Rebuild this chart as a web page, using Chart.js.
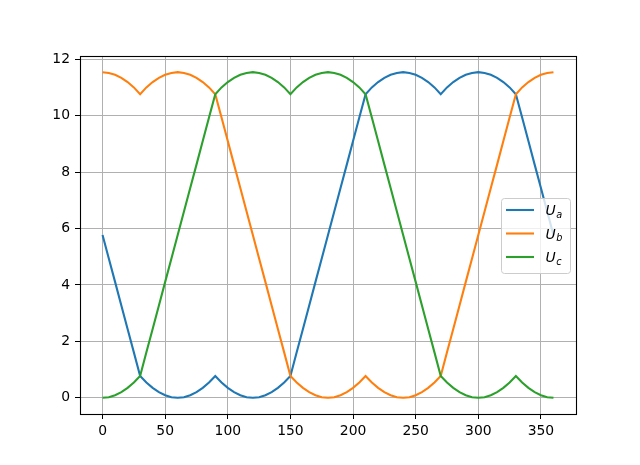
<!DOCTYPE html>
<html>
<head>
<meta charset="utf-8">
<script src="https://cdn.jsdelivr.net/npm/chart.js@4/dist/chart.umd.min.js"></script>
<style>
html,body{margin:0;padding:0;background:#fff;}
#wrap{width:640px;height:465px;}
</style>
</head>
<body>
<div id="wrap"><canvas id="c" width="640" height="465"></canvas></div>
<script>
// angle (degrees)
const xs = [0,5,10,15,20,25,30,35,40,45,50,55,60,65,70,75,80,85,90,95,100,105,110,115,120,125,130,135,140,145,150,155,160,165,170,175,180,185,190,195,200,205,210,215,220,225,230,235,240,245,250,255,260,265,270,275,280,285,290,295,300,305,310,315,320,325,330,335,340,345,350,355,360];
const ua = [5.77,4.94,4.11,3.27,2.44,1.61,0.77,
  0.54,0.35,0.20,0.09,0.02,0.00,0.02,0.09,0.20,0.35,0.54,0.77,
  0.54,0.35,0.20,0.09,0.02,0.00,0.02,0.09,0.20,0.35,0.54,0.77,
  1.61,2.44,3.27,4.11,4.94,5.77,6.61,7.44,8.27,9.11,9.94,10.77,
  11.01,11.20,11.35,11.46,11.52,11.55,11.52,11.46,11.35,11.20,11.01,10.77,
  11.01,11.20,11.35,11.46,11.52,11.55,11.52,11.46,11.35,11.20,11.01,10.77,
  9.94,9.11,8.27,7.44,6.61,5.77];
const ub = [11.55,11.52,11.46,11.35,11.20,11.01,10.77,
  11.01,11.20,11.35,11.46,11.52,11.55,11.52,11.46,11.35,11.20,11.01,10.77,
  9.94,9.11,8.27,7.44,6.61,5.77,4.94,4.11,3.27,2.44,1.61,0.77,
  0.54,0.35,0.20,0.09,0.02,0.00,0.02,0.09,0.20,0.35,0.54,0.77,
  0.54,0.35,0.20,0.09,0.02,0.00,0.02,0.09,0.20,0.35,0.54,0.77,
  1.61,2.44,3.27,4.11,4.94,5.77,6.61,7.44,8.27,9.11,9.94,10.77,
  11.01,11.20,11.35,11.46,11.52,11.55];
const uc = [0.00,0.02,0.09,0.20,0.35,0.54,0.77,
  1.61,2.44,3.27,4.11,4.94,5.77,6.61,7.44,8.27,9.11,9.94,10.77,
  11.01,11.20,11.35,11.46,11.52,11.55,11.52,11.46,11.35,11.20,11.01,10.77,
  11.01,11.20,11.35,11.46,11.52,11.55,11.52,11.46,11.35,11.20,11.01,10.77,
  9.94,9.11,8.27,7.44,6.61,5.77,4.94,4.11,3.27,2.44,1.61,0.77,
  0.54,0.35,0.20,0.09,0.02,0.00,0.02,0.09,0.20,0.35,0.54,0.77,
  0.54,0.35,0.20,0.09,0.02,0.00];
const xTicks = [0,50,100,150,200,250,300,350];
const yTicks = [0,2,4,6,8,10,12];
const seriesBase = ['U','U','U'];
const seriesSub = ['a','b','c'];
const colors = ['#1f77b4','#ff7f0e','#2ca02c'];

const FONT = 'DejaVu Sans';
const series = [ua, ub, uc];

const datasets = series.map((s, i) => ({
  label: seriesBase[i] + '_' + seriesSub[i],
  data: xs.map((x, j) => ({x: x, y: s[j]})),
  borderColor: colors[i],
  backgroundColor: colors[i],
  borderWidth: 2.1,
  pointRadius: 0,
  tension: 0,
  fill: false,
  order: 3 - i
}));

const framePlugin = {
  id: 'frame',
  afterDraw(chart) {
    const ctx = chart.ctx;
    const a = chart.chartArea;
    ctx.save();
    ctx.strokeStyle = '#000';
    ctx.lineWidth = 1.1;
    ctx.strokeRect(Math.round(a.left) + 0.5, Math.round(a.top) + 0.5,
                   Math.round(a.right - a.left), Math.round(a.bottom - a.top));
    // legend
    const bx = 501.5, by = 198.5, bw = 69, bh = 75, r = 3;
    ctx.beginPath();
    ctx.moveTo(bx + r, by);
    ctx.lineTo(bx + bw - r, by);
    ctx.quadraticCurveTo(bx + bw, by, bx + bw, by + r);
    ctx.lineTo(bx + bw, by + bh - r);
    ctx.quadraticCurveTo(bx + bw, by + bh, bx + bw - r, by + bh);
    ctx.lineTo(bx + r, by + bh);
    ctx.quadraticCurveTo(bx, by + bh, bx, by + bh - r);
    ctx.lineTo(bx, by + r);
    ctx.quadraticCurveTo(bx, by, bx + r, by);
    ctx.closePath();
    ctx.fillStyle = 'rgba(255,255,255,0.8)';
    ctx.fill();
    ctx.strokeStyle = '#cccccc';
    ctx.lineWidth = 1;
    ctx.stroke();
    const ys = [210, 233.5, 257];
    for (let i = 0; i < 3; i++) {
      ctx.beginPath();
      ctx.strokeStyle = colors[i];
      ctx.lineWidth = 2.1;
      ctx.moveTo(506, ys[i]);
      ctx.lineTo(534, ys[i]);
      ctx.stroke();
      ctx.fillStyle = '#000';
      ctx.textBaseline = 'alphabetic';
      ctx.textAlign = 'left';
      ctx.font = 'italic 13.9px "' + FONT + '"';
      ctx.fillText(seriesBase[i], 545.5, ys[i] + 5);
      const w = ctx.measureText(seriesBase[i]).width;
      ctx.font = 'italic 9.7px "' + FONT + '"';
      ctx.fillText(seriesSub[i], 545.5 + w + 0.5, ys[i] + 7.5);
    }
    ctx.restore();
  }
};

new Chart(document.getElementById('c'), {
  type: 'line',
  data: { datasets: datasets },
  options: {
    responsive: false,
    animation: false,
    events: [],
    layout: { padding: { left: 0, top: 56, right: 64, bottom: 0 } },
    plugins: { legend: { display: false }, tooltip: { enabled: false } },
    scales: {
      x: {
        type: 'linear',
        min: -18,
        max: 378,
        afterBuildTicks: s => { s.ticks = xTicks.map(v => ({value: v})); },
        afterFit: s => { s.height = 51; },
        grid: { color: '#b0b0b0', lineWidth: 1, tickColor: '#000', tickLength: 5, drawTicks: true },
        border: { color: '#000', width: 1 },
        ticks: { color: '#000', font: { family: FONT, size: 13.9 }, padding: 4, maxRotation: 0, autoSkip: false,
          callback: v => String(v) }
      },
      y: {
        type: 'linear',
        min: -0.577,
        max: 12.124,
        afterBuildTicks: s => { s.ticks = yTicks.map(v => ({value: v})); },
        afterFit: s => { s.width = 80; },
        grid: { color: '#b0b0b0', lineWidth: 1, tickColor: '#000', tickLength: 5, drawTicks: true },
        border: { color: '#000', width: 1 },
        ticks: { color: '#000', font: { family: FONT, size: 13.9 }, padding: 5, autoSkip: false,
          callback: v => String(v) }
      }
    }
  },
  plugins: [framePlugin]
});
</script>
</body>
</html>
